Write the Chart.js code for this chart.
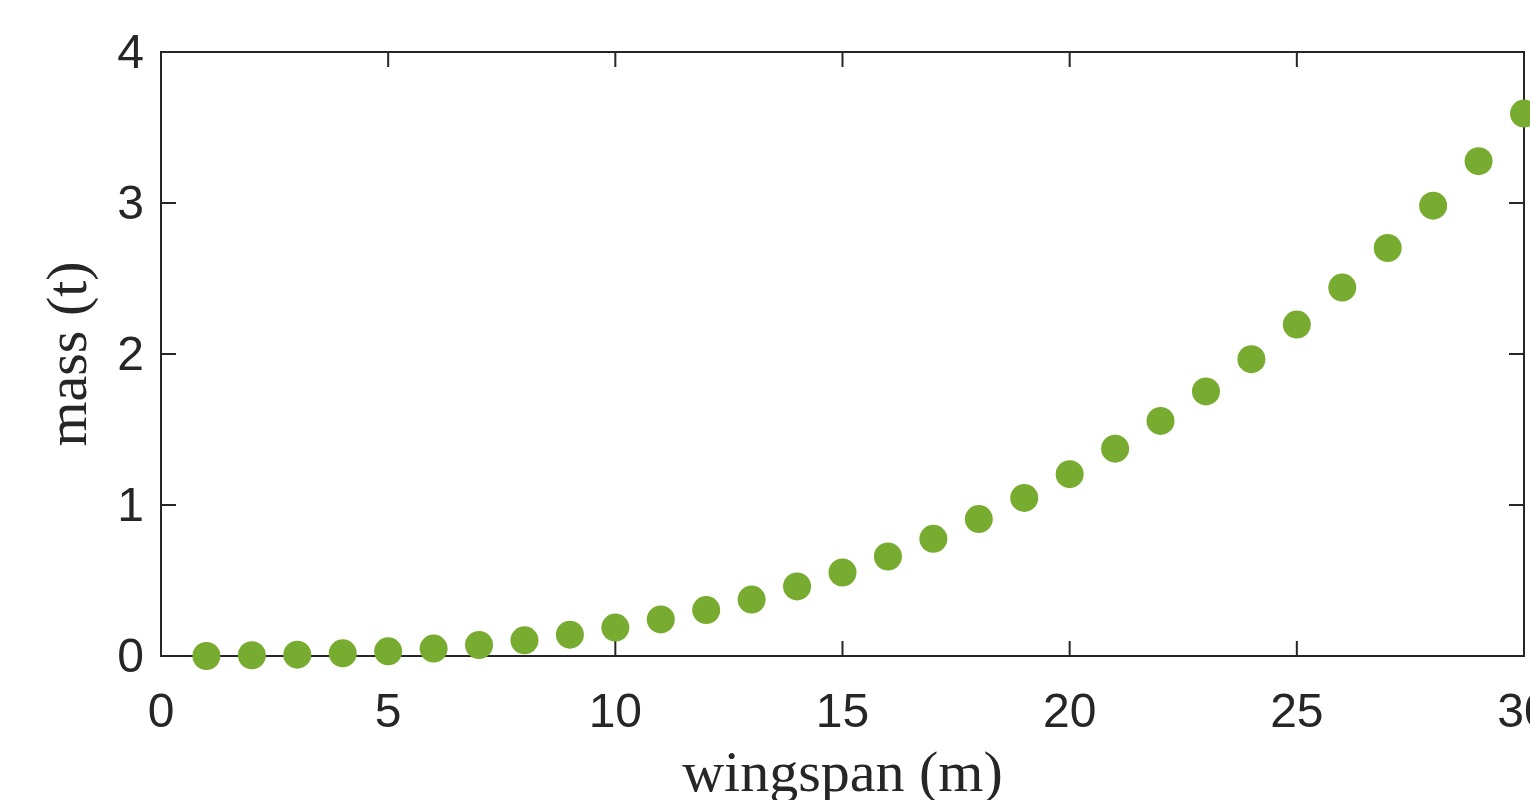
<!DOCTYPE html>
<html lang="en">
<head>
    <meta charset="UTF-8">
    <title>Mass vs wingspan</title>
    <script src="https://cdn.jsdelivr.net/npm/chart.js"></script>
    <style>
        html, body { margin: 0; padding: 0; background: #fff; overflow: hidden; }
        #wrap { width: 1530px; height: 800px; }
    </style>
</head>
<body>

<div id="wrap">
    <canvas id="massChart"></canvas>
</div>

<script>
    // wingspan (m) and mass (t)
    const wingspan = [1, 2, 3, 4, 5, 6, 7, 8, 9, 10, 11, 12, 13, 14, 15,
                      16, 17, 18, 19, 20, 21, 22, 23, 24, 25, 26, 27, 28, 29, 30];
    const mass = [0.000, 0.005, 0.009, 0.018, 0.031, 0.049, 0.073, 0.104, 0.141, 0.188,
                  0.242, 0.304, 0.374, 0.461, 0.553, 0.659, 0.776, 0.907, 1.047, 1.204,
                  1.373, 1.557, 1.752, 1.966, 2.195, 2.440, 2.702, 2.982, 3.277, 3.592];
    const xTicks = [0, 5, 10, 15, 20, 25, 30];
    const yTicks = [0, 1, 2, 3, 4];

    const axisColor = '#262626';

    // box round the plot with inward ticks on all four sides
    const frame = {
        id: 'frame',
        beforeDatasetsDraw(chart) {
            const { ctx, chartArea: a, scales: { x, y } } = chart;
            const len = 15;
            ctx.save();
            ctx.strokeStyle = axisColor;
            ctx.lineWidth = 2;
            ctx.strokeRect(a.left, a.top, a.right - a.left, a.bottom - a.top);
            ctx.beginPath();
            x.ticks.forEach(t => {
                const px = x.getPixelForValue(t.value);
                ctx.moveTo(px, a.bottom); ctx.lineTo(px, a.bottom - len);
                ctx.moveTo(px, a.top); ctx.lineTo(px, a.top + len);
            });
            y.ticks.forEach(t => {
                const py = y.getPixelForValue(t.value);
                ctx.moveTo(a.left, py); ctx.lineTo(a.left + len, py);
                ctx.moveTo(a.right, py); ctx.lineTo(a.right - len, py);
            });
            ctx.stroke();
            ctx.restore();
        }
    };

    const ctx = document.getElementById('massChart').getContext('2d');
    new Chart(ctx, {
        type: 'scatter',
        data: {
            datasets: [{
                label: 'mass',
                data: wingspan.map((w, i) => ({ x: w, y: mass[i] })),
                backgroundColor: '#77AC30',
                borderWidth: 0,
                pointRadius: 14,
                pointHoverRadius: 14,
                clip: false
            }]
        },
        options: {
            responsive: true,
            maintainAspectRatio: false,
            animation: false,
            layout: { autoPadding: false, padding: { top: 52, right: 6, left: 0, bottom: 0 } },
            plugins: { legend: { display: false }, tooltip: { enabled: false } },
            scales: {
                x: {
                    type: 'linear',
                    min: 0,
                    max: 30,
                    afterBuildTicks(scale) { scale.ticks = xTicks.map(v => ({ value: v })); },
                    afterFit(scale) {
                        scale.height = 144;
                        scale.paddingLeft = 0;
                        scale.paddingRight = 0;
                    },
                    grid: { display: false, drawTicks: false },
                    border: { display: false },
                    ticks: {
                        padding: 29,
                        color: axisColor,
                        maxRotation: 0,
                        autoSkip: false,
                        font: { family: '"Liberation Sans", Arial, sans-serif', size: 48 }
                    },
                    title: {
                        display: true,
                        text: 'wingspan (m)',
                        color: axisColor,
                        padding: { top: 0, bottom: 7 },
                        font: { family: '"Liberation Serif", "DejaVu Serif", serif', size: 58, lineHeight: 0.6 }
                    }
                },
                y: {
                    type: 'linear',
                    min: 0,
                    max: 4,
                    afterBuildTicks(scale) { scale.ticks = yTicks.map(v => ({ value: v })); },
                    afterFit(scale) {
                        scale.width = 161;
                        scale.paddingTop = 0;
                        scale.paddingBottom = 0;
                    },
                    grid: { display: false, drawTicks: false },
                    border: { display: false },
                    ticks: {
                        padding: 17,
                        labelOffset: 3,
                        color: axisColor,
                        autoSkip: false,
                        font: { family: '"Liberation Sans", Arial, sans-serif', size: 48 }
                    },
                    title: {
                        display: true,
                        text: 'mass (t)',
                        color: axisColor,
                        padding: { top: 53, bottom: 0 },
                        font: { family: '"Liberation Serif", "DejaVu Serif", serif', size: 58, lineHeight: 0.6 }
                    }
                }
            }
        },
        plugins: [frame]
    });
</script>

</body>
</html>
